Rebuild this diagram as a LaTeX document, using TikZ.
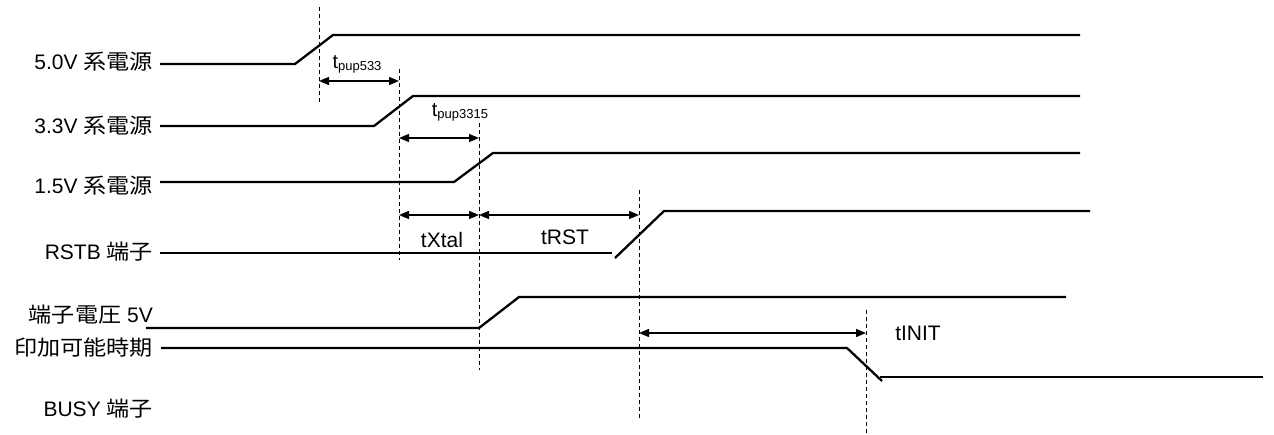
\documentclass[tikz,border=0pt]{standalone}
\usepackage{fontspec}
\setmainfont{Liberation Sans}
\newfontfamily\jpfont[FakeStretch=1.1]{Noto Sans CJK JP}
\usetikzlibrary{arrows.meta}
\newcommand{\tsub}[2]{{\fontsize{20}{22}\selectfont #1}\raisebox{-2pt}{\fontsize{13}{14}\selectfont #2}}

\begin{document}
\begin{tikzpicture}[
      x=1pt,y=-1pt,
      wave/.style={line width=2.3pt,line cap=butt,line join=miter},
      guide/.style={line width=1pt,dash pattern=on 4pt off 3pt},
      span/.style={line width=1.4pt,{Triangle[length=10pt,width=8pt]}-{Triangle[length=10pt,width=8pt]}},
      sig/.style={font=\fontsize{21}{24}\selectfont,anchor=east,inner sep=0pt},
      tlab/.style={font=\fontsize{21}{24}\selectfont,inner sep=0pt},
    ]
    \useasboundingbox (0,0) rectangle (1274,435);
    \def\lx{153}
    % signal names
    \node[sig] (n50) at (\lx,62) {5.0V {\jpfont 系電源}};
    \node[sig] (n33) at (\lx,126) {3.3V {\jpfont 系電源}};
    \node[sig] (n15) at (\lx,186) {1.5V {\jpfont 系電源}};
    \node[sig] (nrst) at (\lx,252) {RSTB {\jpfont 端子}};
    \node[sig] (nvin) at (\lx,315) {{\jpfont 端子電圧} 5V};
    \node[sig] (nper) at (\lx,348) {\jpfont 印加可能時期};
    \node[sig] (nbsy) at (\lx,409) {BUSY {\jpfont 端子}};
    % waveforms
    \draw[wave] (160,64) -- (295,64) -- (333,35) -- (1080,35);
    \draw[wave] (160,126) -- (374,126) -- (413,96) -- (1080,96);
    \draw[wave] (160,182) -- (454,182) -- (493,153) -- (1080,153);
    \draw[wave] (160,253) -- (612,253);
    \draw[wave] (615,258) -- (664,211) -- (1090,211);
    \draw[wave] (146,328) -- (479,328) -- (519,297) -- (1066,297);
    \draw[wave] (161,348) -- (847,348) -- (882,381);
    \draw[wave] (880,377) -- (1263,377);
    % timing markers
    \foreach \n/\x/\ya/\yb in {d1/319/7/103, d2/399/69/260, d3/479/123/370,
                               d4/639/190/418, d5/866/310/435}{
      \coordinate (\n t) at (\x,\ya);
      \coordinate (\n b) at (\x,\yb);
      \draw[guide] (\n t) -- (\n b);
    }
    \draw[span] (d1t |- 0,81) -- (d2t |- 0,81);
    \draw[span] (d2t |- 0,138) -- (d3t |- 0,138);
    \draw[span] (d2t |- 0,215) -- (d3t |- 0,215);
    \draw[span] (d3t |- 0,215) -- (d4t |- 0,215);
    \draw[span] (d4t |- 0,333) -- (d5t |- 0,333);
    \node[inner sep=0pt] (tp1) at (357,64) {\tsub{t}{pup533}};
    \node[inner sep=0pt] (tp2) at (460,112) {\tsub{t}{pup3315}};
    \node[tlab] (txt) at (442,240) {tXtal};
    \node[tlab] (trs) at (565,237) {tRST};
    \node[tlab] (tin) at (918,333) {tINIT};
  \end{tikzpicture}
\end{document}
